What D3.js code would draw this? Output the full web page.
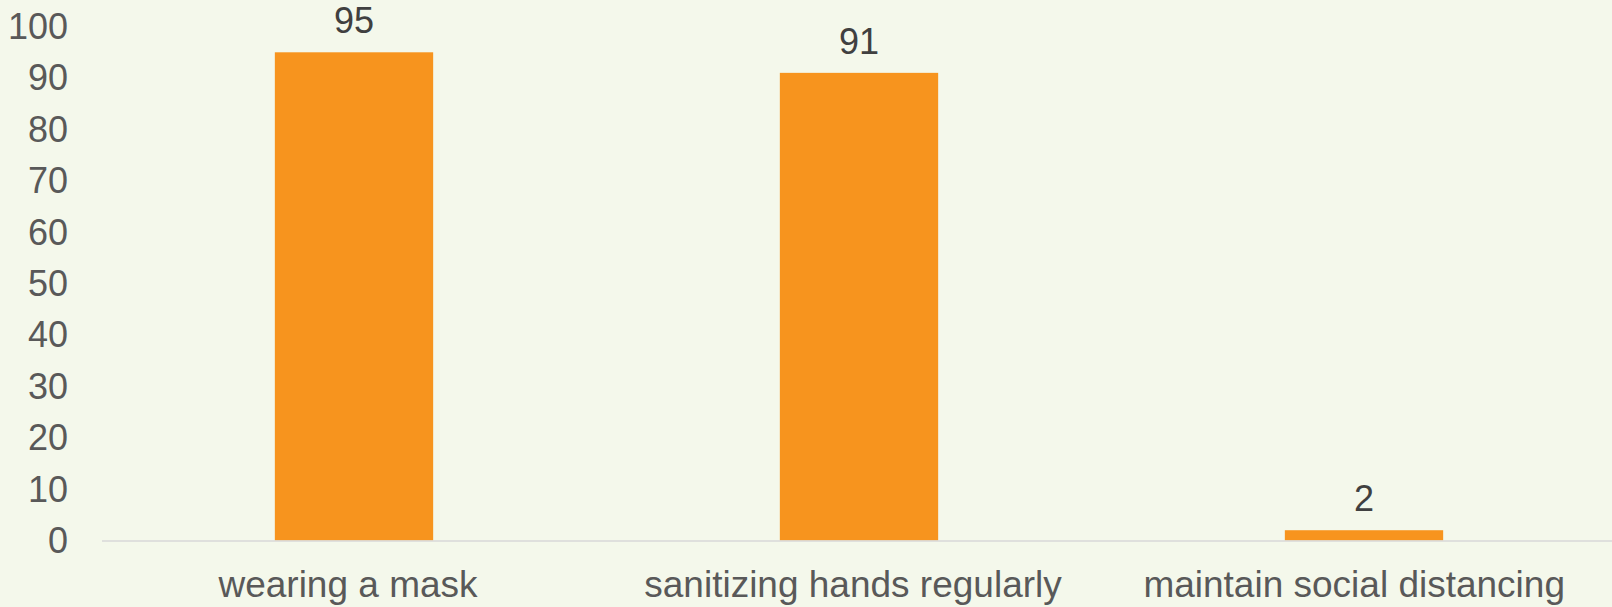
<!DOCTYPE html>
<html>
<head>
<meta charset="utf-8">
<script src="https://cdn.jsdelivr.net/npm/d3@7"></script>
<style>
  html, body { margin: 0; padding: 0; background: #F4F8EB; }
  svg { display: block; }
  text { font-family: "Liberation Sans", Arial, sans-serif; }
</style>
</head>
<body>
<svg id="chart" width="1612" height="607"></svg>
<script>
// Precautions taken (percent of respondents)
const categories = ["wearing a mask", "sanitizing hands regularly", "maintain social distancing"];
const values = [95, 91, 2];
const yTicks = [0, 10, 20, 30, 40, 50, 60, 70, 80, 90, 100];

const width = 1612, height = 607;
const svg = d3.select("#chart");

svg.append("rect").attr("width", width).attr("height", height).attr("fill", "#F4F8EB");

const x = d3.scaleBand()
  .domain(categories)
  .range([101.5, 1616.5])
  .paddingInner(0.6865)
  .paddingOuter(0.34325);

const y = d3.scaleLinear()
  .domain([0, 100])
  .range([540.5, 26.6]);

// Value axis: labels only
const yAxis = svg.append("g")
  .attr("transform", "translate(68,0)")
  .call(d3.axisLeft(y).tickValues(yTicks).tickSize(0).tickPadding(0));
yAxis.select(".domain").remove();
yAxis.selectAll("text")
  .attr("fill", "#595959")
  .style("font-size", "36px")
  .attr("dy", "0.33em");

// Bars
svg.append("g").selectAll("rect")
  .data(values)
  .join("rect")
  .attr("x", (d, i) => x(categories[i]))
  .attr("width", x.bandwidth())
  .attr("y", d => y(d))
  .attr("height", d => y(0) - y(d))
  .attr("fill", "#F7941E");

// Baseline
svg.append("line")
  .attr("x1", 102).attr("x2", width)
  .attr("y1", y(0) + 0.5).attr("y2", y(0) + 0.5)
  .attr("stroke", "#D9D9D9")
  .attr("stroke-width", 1.5);

// Data labels
svg.append("g").selectAll("text")
  .data(values)
  .join("text")
  .attr("x", (d, i) => x(categories[i]) + x.bandwidth() / 2)
  .attr("y", d => y(d) - 19)
  .attr("text-anchor", "middle")
  .attr("fill", "#404040")
  .style("font-size", "36px")
  .text(d => d);

// Category axis labels
const xAxis = svg.append("g")
  .attr("transform", `translate(-6,${y(0)})`)
  .call(d3.axisBottom(x).tickSize(0).tickPadding(0));
xAxis.select(".domain").remove();
xAxis.selectAll("text")
  .attr("fill", "#595959")
  .style("font-size", "37px")
  .attr("dy", null)
  .attr("y", 56)
  .each(function () {
    // keep labels inside the right margin
    const b = this.getBBox();
    const tx = d3.select(this.parentNode).attr("transform");
    const m = /translate\(([-\d.]+)/.exec(tx);
    const right = (m ? +m[1] : 0) - 6 + b.x + b.width;
    if (right > width - 47) d3.select(this).attr("x", (width - 47) - right);
  });
</script>
</body>
</html>
